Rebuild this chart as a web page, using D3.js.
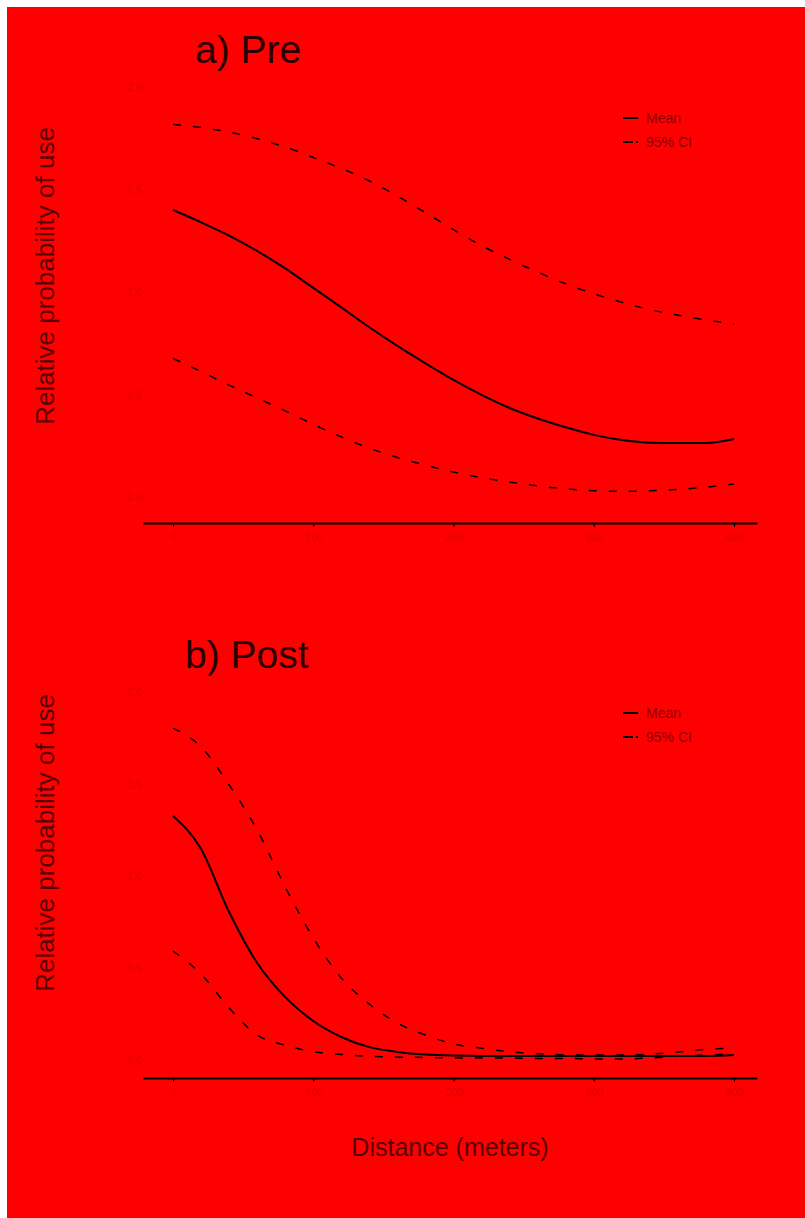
<!DOCTYPE html>
<html>
<head>
<meta charset="utf-8">
<script src="https://cdn.jsdelivr.net/npm/d3@7/dist/d3.min.js"></script>
<style>
  html, body { margin: 0; padding: 0; background: #ffffff; }
  svg { display: block; font-family: "Liberation Sans", Arial, sans-serif; }
</style>
</head>
<body>
<svg id="chart" width="805" height="1218"></svg>
<script>
// Distance from the feature (meters)
const distance = [0, 20, 40, 60, 80, 100, 120, 140, 160, 180, 200,
                  220, 240, 260, 280, 300, 320, 340, 360, 380, 400];

// a) Pre: fitted relative probability of use with 95% confidence band
const preMean  = [1.400, 1.340, 1.275, 1.200, 1.115, 1.020, 0.925, 0.828, 0.737, 0.652, 0.571,
                  0.498, 0.434, 0.383, 0.340, 0.303, 0.278, 0.265, 0.263, 0.263, 0.283];
const preLower = [0.676, 0.612, 0.546, 0.483, 0.420, 0.354, 0.293, 0.238, 0.193, 0.155, 0.122,
                  0.094, 0.073, 0.054, 0.040, 0.031, 0.028, 0.030, 0.037, 0.048, 0.063];
const preUpper = [1.817, 1.802, 1.780, 1.748, 1.707, 1.656, 1.603, 1.542, 1.468, 1.387, 1.304,
                  1.226, 1.159, 1.097, 1.040, 0.991, 0.950, 0.914, 0.887, 0.864, 0.844];

// b) Post
const postMean  = [1.326, 1.147, 0.804, 0.527, 0.342, 0.212, 0.125, 0.070, 0.044, 0.030, 0.024,
                   0.022, 0.022, 0.022, 0.022, 0.022, 0.022, 0.022, 0.022, 0.022, 0.027];
const postLower = [0.592, 0.467, 0.283, 0.136, 0.080, 0.045, 0.030, 0.020, 0.016, 0.014, 0.011,
                   0.011, 0.010, 0.008, 0.008, 0.006, 0.006, 0.011, 0.020, 0.027, 0.033];
const postUpper = [1.804, 1.701, 1.495, 1.250, 0.940, 0.663, 0.446, 0.304, 0.201, 0.136, 0.087,
                   0.064, 0.045, 0.034, 0.028, 0.027, 0.027, 0.032, 0.043, 0.058, 0.065];

const xTicks = [0, 100, 200, 300, 400];
const yTicks = [0, 0.5, 1, 1.5, 2];
const legendLabels = ["Mean", "95% CI"];
const panelTitles = ["a) Pre", "b) Post"];

const svg = d3.select("#chart");
const RED = "#ff0000";

svg.append("rect")
  .attr("x", 7).attr("y", 7)
  .attr("width", 798).attr("height", 1211)
  .attr("fill", RED);

// horizontal scale shared by both panels (axis line runs a little past the data range)
const x = d3.scaleLinear().domain([-21.4, 416.4]).range([143, 757]);

const panels = [
  { title: panelTitles[0], mean: preMean, lower: preLower, upper: preUpper,
    yRange: [497, 87], axisY: 523, titleX: 195, titleY: 63,
    ylabY: 276, legendY: 118 },
  { title: panelTitles[1], mean: postMean, lower: postLower, upper: postUpper,
    yRange: [1060, 692], axisY: 1078, titleX: 185, titleY: 668,
    ylabY: 843, legendY: 713 }
];

panels.forEach(p => {
  const y = d3.scaleLinear().domain([0, 2]).range(p.yRange);
  const g = svg.append("g");

  // y tick labels (faint)
  const yAxis = d3.axisLeft(y).tickValues(yTicks).tickSize(0).tickPadding(0)
    .tickFormat(d3.format(".1f"));
  const ya = g.append("g").attr("transform", "translate(142,0)").call(yAxis);
  ya.select(".domain").remove();
  ya.selectAll("text").attr("fill", "#e60000").style("font-size", "11px")
    .style("font-family", "Liberation Sans, Arial, sans-serif");

  // x axis
  const xAxis = d3.axisBottom(x).tickValues(xTicks).tickSize(4).tickSizeOuter(0).tickPadding(6);
  const xa = g.append("g").attr("transform", `translate(0,${p.axisY})`).call(xAxis);
  xa.select(".domain").attr("stroke", "#000").attr("stroke-width", 2);
  xa.selectAll(".tick line").attr("stroke", "#000").attr("stroke-width", 1);
  xa.selectAll("text").attr("fill", "#e60000").style("font-size", "11px")
    .style("font-family", "Liberation Sans, Arial, sans-serif");

  const line = vals => d3.line()
      .x((d, i) => x(distance[i]))
      .y(d => y(d))
      .curve(d3.curveMonotoneX)(vals);

  // confidence band limits
  [p.upper, p.lower].forEach(vals => {
    g.append("path")
      .attr("d", line(vals))
      .attr("fill", "none")
      .attr("stroke", "#000")
      .attr("stroke-width", 1.5)
      .attr("stroke-dasharray", "8,12");
  });

  // fitted mean
  g.append("path")
    .attr("d", line(p.mean))
    .attr("fill", "none")
    .attr("stroke", "#000")
    .attr("stroke-width", 2);

  // panel title
  g.append("text")
    .attr("x", p.titleX).attr("y", p.titleY)
    .attr("fill", "#2a0000")
    .style("font-size", "39px")
    .text(p.title);

  // y-axis title
  g.append("text")
    .attr("transform", `translate(54,${p.ylabY}) rotate(-90)`)
    .attr("text-anchor", "middle")
    .attr("fill", "#5a0000")
    .style("font-size", "26px")
    .text("Relative probability of use");

  // legend
  legendLabels.forEach((lab, i) => {
    const ly = p.legendY + i * 24;
    g.append("line")
      .attr("x1", 623).attr("x2", 638)
      .attr("y1", ly).attr("y2", ly)
      .attr("stroke", "#000").attr("stroke-width", 2)
      .attr("stroke-dasharray", i === 0 ? null : "10,3");
    g.append("text")
      .attr("x", 646).attr("y", ly)
      .attr("dy", "0.35em")
      .attr("fill", "#8a0000")
      .style("font-size", "14px")
      .text(lab);
  });
});

// shared x-axis title
svg.append("text")
  .attr("x", 450).attr("y", 1156)
  .attr("text-anchor", "middle")
  .attr("fill", "#5a0000")
  .style("font-size", "25px")
  .text("Distance (meters)");
</script>
</body>
</html>
